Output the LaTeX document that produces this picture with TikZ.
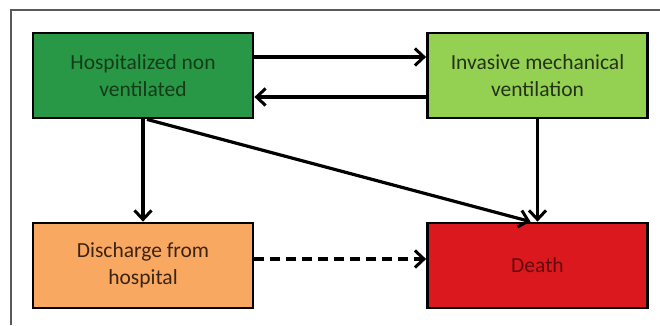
\documentclass[tikz,border=0pt]{standalone}
\usepackage{fontspec}
\setmainfont{Carlito}
\usetikzlibrary{arrows.meta}
\definecolor{hgreen}{RGB}{40,152,70}
\definecolor{lgreen}{RGB}{148,208,82}
\definecolor{orng}{RGB}{248,168,96}
\definecolor{dred}{RGB}{218,24,30}
\begin{document}
\begin{tikzpicture}[x=1pt,y=-1pt,
  box/.style={draw=black,line width=2.8pt,minimum width=220pt,minimum height=85pt,align=center,font=\fontsize{21.5}{27}\selectfont,inner sep=0pt},
  arr/.style={line width=3.2pt,-{Straight Barb[length=9pt,width=17pt,line width=3pt]}},
  frame/.style={draw=black!65,line width=1.6pt}]
\useasboundingbox (0,0) rectangle (660,325);
\draw[frame] (11,325) -- (11,10) -- (660,10);
\node[box,fill=hgreen,text={rgb,255:red,20;green,60;blue,25}] (b1) at (143,75.5) {Hospitalized non\\ventilated};
\node[box,fill=lgreen,text={rgb,255:red,35;green,50;blue,25}] (b2) at (537.5,75.5) {Invasive mechanical\\ventilation};
\node[box,fill=orng,text={rgb,255:red,60;green,35;blue,20}] (b3) at (143,265.5) {Discharge from\\hospital};
\node[box,fill=dred,text={rgb,255:red,100;green,10;blue,12}] (b4) at (537.5,265.5) {Death};
\coordinate (t1) at (0,57);
\coordinate (t2) at (0,97);
\coordinate (t3) at (0,259);
\draw[arr] (b1.east |- t1) -- (b2.west |- t1);
\draw[arr] (b2.west |- t2) -- (b1.east |- t2);
\draw[arr] (b1.south) -- (b3.north);
\draw[arr] ([xshift=4pt]b1.south) -- ([xshift=-7pt]b4.north);
\draw[arr] (b2.south) -- (b4.north);
\draw[arr,dash pattern=on 10pt off 6pt] (b3.east |- t3) -- (b4.west |- t3);
\end{tikzpicture}
\end{document}
